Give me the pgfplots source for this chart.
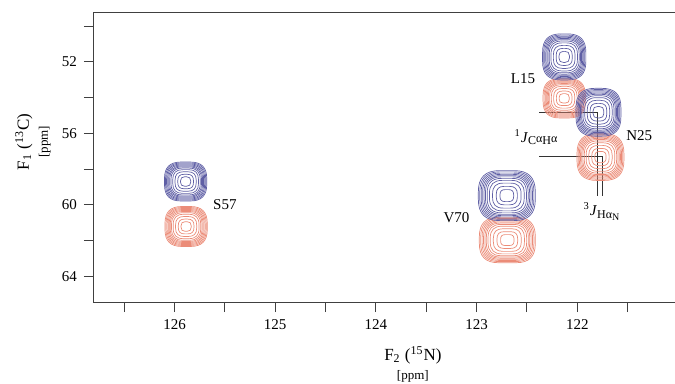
\documentclass[border=0pt]{standalone}
\usepackage{fontspec}
\setmainfont{Liberation Serif}
\usepackage{pgfplots}
\pgfplotsset{compat=1.18}
\usepackage{pgfplotstable}
\definecolor{pkblue}{HTML}{5F5FA5}
\definecolor{pkred}{HTML}{EB8C78}

% peak contour rings: half-widths (ppm) come from the table via visualization depends on
\pgfdeclareplotmark{peak}{%
  \pgfmathsetlengthmacro\hxl{\rawhx*50.34}%
  \pgfmathsetlengthmacro\hyl{\rawhy*8.925}%
  \foreach \f in {1,0.95,0.9,0.85,0.8,0.75,0.69,0.61,0.5,0.37,0.24}{%
    \pgfmathsetlengthmacro\a{\f*\hxl}%
    \pgfmathsetlengthmacro\b{\f*\hyl}%
    \pgfmathsetlengthmacro\r{0.85*min(\a,\b)}%
    \pgfmathsetlengthmacro\ar{\a-\r}%
    \pgfmathsetlengthmacro\br{\b-\r}%
    \pgfmathsetlengthmacro\ak{\a-0.32*\r}%
    \pgfmathsetlengthmacro\bk{\b-0.32*\r}%
    \pgfpathmoveto{\pgfpoint{\ar}{-\b}}%
    \pgfpathcurveto{\pgfpoint{\ak}{-\b}}{\pgfpoint{\a}{-\bk}}{\pgfpoint{\a}{-\br}}%
    \pgfpathlineto{\pgfpoint{\a}{\br}}%
    \pgfpathcurveto{\pgfpoint{\a}{\bk}}{\pgfpoint{\ak}{\b}}{\pgfpoint{\ar}{\b}}%
    \pgfpathlineto{\pgfpoint{-\ar}{\b}}%
    \pgfpathcurveto{\pgfpoint{-\ak}{\b}}{\pgfpoint{-\a}{\bk}}{\pgfpoint{-\a}{\br}}%
    \pgfpathlineto{\pgfpoint{-\a}{-\br}}%
    \pgfpathcurveto{\pgfpoint{-\a}{-\bk}}{\pgfpoint{-\ak}{-\b}}{\pgfpoint{-\ar}{-\b}}%
    \pgfpathclose
    \pgfusepath{stroke}%
  }%
}

\pgfplotstableread{
x y hx hy
125.89 58.70 0.21 1.09
122.13 51.72 0.215 1.29
121.79 54.82 0.223 1.34
122.70 59.49 0.283 1.40
}\bluepeaks
\pgfplotstableread{
x y hx hy
125.885 61.22 0.21 1.12
122.13 54.04 0.21 1.10
121.77 57.33 0.233 1.31
122.695 61.98 0.278 1.27
}\redpeaks

\begin{document}
\begin{tikzpicture}
\begin{axis}[
  scale only axis, width=292pt, height=144.5pt,
  x dir=reverse, y dir=reverse,
  xmin=121.0, xmax=126.8, ymin=49.26, ymax=65.45,
  xtick={122,123,124,125,126},
  minor xtick={121.5,122.5,123.5,124.5,125.5,126.5},
  ytick={52,56,60,64}, minor ytick={50,54,58,62},
  tick align=outside, major tick length=5pt, minor tick length=5pt,
  tick pos=left,
  every tick/.style={black!75, line width=0.5pt},
  axis line style={black!75, line width=0.5pt},
  /pgf/number format/assume math mode=true,
  tick label style={font=\fontsize{7.5}{9}\selectfont},
  xlabel={F\textsubscript{2} (\textsuperscript{15}N)\\{\fontsize{6.5}{8}\selectfont[ppm]}},
  ylabel={F\textsubscript{1} (\textsuperscript{13}C)\\{\fontsize{6.5}{8}\selectfont[ppm]}},
  x label style={at={(axis description cs:0.546,0)}, anchor=north, yshift=-19pt,
    align=center, font=\fontsize{8.5}{9.5}\selectfont},
  y label style={at={(axis description cs:-0.1045,0.554)}, anchor=center,
    align=center, font=\fontsize{8.5}{9.5}\selectfont},
  clip=false,
]
\addplot[only marks, mark=peak, color=pkred, mark options={line width=0.35pt},
  visualization depends on={\thisrow{hx}\as\rawhx},
  visualization depends on={\thisrow{hy}\as\rawhy}]
  table[x=x,y=y] {\redpeaks};
\addplot[only marks, mark=peak, color=pkblue, mark options={line width=0.35pt},
  visualization depends on={\thisrow{hx}\as\rawhx},
  visualization depends on={\thisrow{hy}\as\rawhy}]
  table[x=x,y=y] {\bluepeaks};
\addplot[black!80, line width=0.5pt] coordinates {(122.377,54.85) (121.80,54.85) (121.80,59.52)};
\addplot[black!80, line width=0.5pt] coordinates {(122.377,57.29) (121.75,57.29) (121.75,59.52)};
\begin{scope}[font=\fontsize{7.5}{9}\selectfont]
\node at (axis cs:125.50,59.99) {S57};
\node at (axis cs:122.54,52.95) {L15};
\node at (axis cs:121.385,56.13) {N25};
\node at (axis cs:123.20,60.72) {V70};
\node at (axis cs:122.41,56.22) {\textsuperscript{1}\textit{J}\raisebox{-0.35ex}{\fontsize{6}{7}\selectfont C\raisebox{0.35ex}{α}H\raisebox{0.35ex}{α}}};
\node at (axis cs:121.76,60.38) {\textsuperscript{3}\textit{J}\raisebox{-0.35ex}{\fontsize{6}{7}\selectfont Hα\raisebox{-0.35ex}{\fontsize{5}{6}\selectfont N}}};
\end{scope}
\end{axis}
\pgfresetboundingbox
\path ([shift={(-47pt,-40.5pt)}]current axis.south west) rectangle ([shift={(-1.5pt,6.5pt)}]current axis.north east);
\end{tikzpicture}
\end{document}
